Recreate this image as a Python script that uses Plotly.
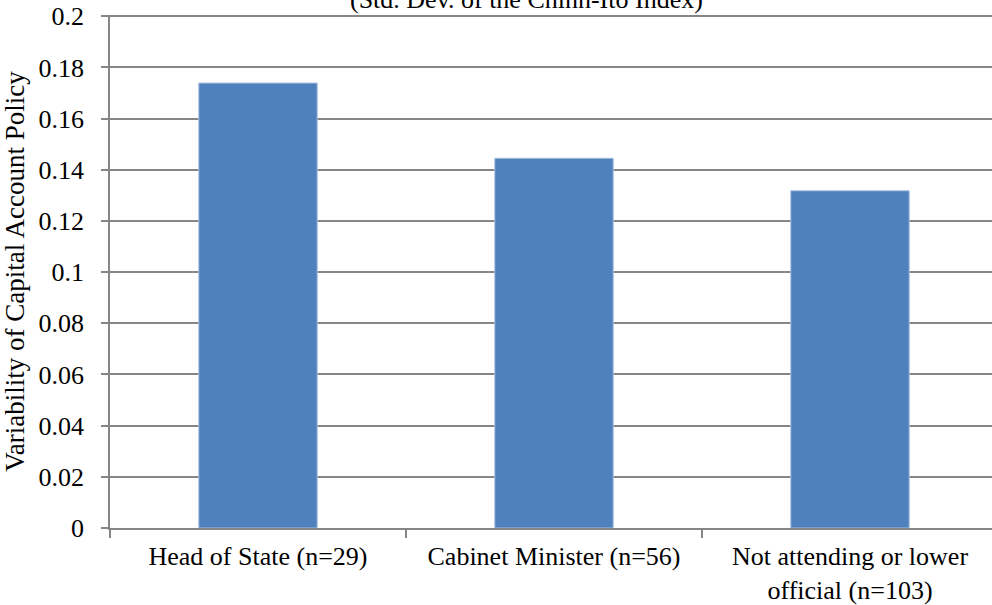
import plotly.graph_objects as go

categories = ["Head of State (n=29)", "Cabinet Minister (n=56)", "Not attending or lower<br>official (n=103)"]
values = [0.1739, 0.1445, 0.1318]
ytick_vals = [0, 0.02, 0.04, 0.06, 0.08, 0.1, 0.12, 0.14, 0.16, 0.18, 0.2]
ytick_text = ["0", "0.02", "0.04", "0.06", "0.08", "0.1", "0.12", "0.14", "0.16", "0.18", "0.2"]
y_title = "Variability of Capital Account Policy"
chart_title = "(Std. Dev. of the Chinn-Ito Index)"

FONT = "Liberation Serif"
GRID = "#868686"
F = dict(family=FONT, size=26, color="black")

fig = go.Figure()
fig.add_trace(go.Bar(
    x=categories, y=values,
    marker=dict(color="#4F81BD", line=dict(color="#A9C0DE", width=1)),
))

fig.update_layout(
    width=992, height=605,
    margin=dict(l=110, r=0, t=15, b=77, autoexpand=False),
    paper_bgcolor="white", plot_bgcolor="white",
    bargap=0.6, showlegend=False,
    font=F,
    annotations=[dict(
        text=chart_title, xref="paper", yref="paper",
        x=(526 - 110) / 882, y=1.031, xanchor="center", yanchor="middle",
        showarrow=False, font=F,
    )],
)
fig.update_xaxes(
    type="category", range=[-0.5, 2.5 - 6 / 296], automargin=False,
    showline=True, linecolor=GRID, linewidth=1.5,
    ticks="outside", tickson="boundaries", ticklen=8, tickcolor=GRID, tickwidth=1.5,
    showgrid=False, tickfont=F, ticklabelstandoff=4,
)
fig.update_yaxes(
    range=[0, 0.2005], tickvals=ytick_vals, ticktext=ytick_text, automargin=False,
    showline=True, linecolor=GRID, linewidth=1.5,
    ticks="outside", ticklen=7, tickcolor=GRID, tickwidth=1.5,
    showgrid=True, gridcolor=GRID, gridwidth=1.5, zeroline=False,
    ticklabelstandoff=12,
    title=dict(text=y_title, font=dict(family=FONT, size=27, color="black"), standoff=7),
    tickfont=F,
)

fig.write_html("out.html")
